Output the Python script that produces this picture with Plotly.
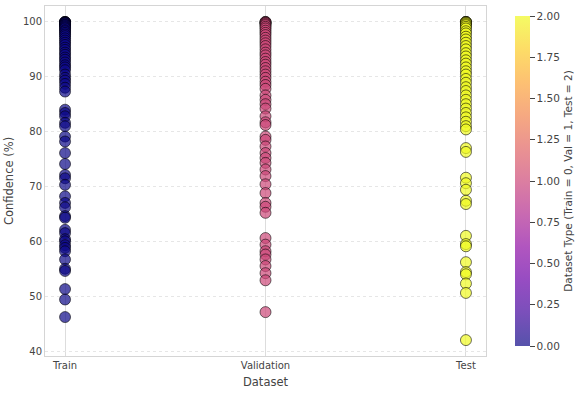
import plotly.graph_objects as go

categories = ["Train", "Validation", "Test"]
type_codes = [0, 1, 2]

train_conf = [100, 100, 100, 99.9, 99.8, 99.8, 99.7, 99.5, 99.4, 99.2, 99.0, 98.8, 98.5, 98.3, 98.0,
              97.7, 97.4, 97.0, 96.6, 96.2, 95.8, 95.3, 94.9, 94.4, 94.0, 93.5, 93.1, 92.6, 92.1,
              91.7, 91.2, 90.4, 89.8, 89.3, 88.7, 88.0, 87.3,
              84.0, 83.4, 82.8, 81.6, 81.0, 79.1, 78.2, 76.1, 74.1, 72.1, 71.5, 70.3, 68.2, 67.0,
              66.2, 64.6, 64.3, 62.1, 61.5, 60.4, 60.0, 59.3, 58.8, 58.2, 56.7, 55.0, 54.6, 51.3,
              49.4, 46.2]
val_conf = [100, 100, 99.9, 99.8, 99.6, 99.4, 99.1, 98.8, 98.4, 98.0, 97.6, 97.1, 96.6, 96.1, 95.6,
            95.0, 94.4, 93.9, 93.3, 92.7, 92.2, 91.6, 91.0, 90.4, 89.8, 89.1, 88.5, 87.8, 86.6,
            85.8, 85.0, 84.2, 82.8, 81.7, 81.2,
            79.1, 78.5, 77.3, 76.1, 75.2, 74.3, 73.1, 71.9, 70.4, 68.8, 67.0, 66.3, 65.2,
            60.6, 59.4, 58.2, 57.6, 56.7, 55.5, 54.2, 52.9, 47.1]
test_conf = [100, 100, 100, 99.9, 99.8, 99.6, 99.4, 99.1, 98.8, 98.3, 97.9, 97.3, 96.8, 96.2, 95.6,
             95.0, 94.3, 93.7, 93.0, 92.4, 91.7, 91.0, 90.4, 89.6, 88.9, 88.1, 87.4, 86.6, 85.8,
             85.0, 84.2, 83.4, 82.6, 81.8, 81.0, 80.4,
             77.0, 76.3, 71.6, 70.6, 69.4, 67.4, 66.8, 61.0, 59.5, 59.1, 56.2, 54.4, 54.0, 52.3,
             50.6, 42.0]

cbar_ticks = [0.0, 0.25, 0.5, 0.75, 1.0, 1.25, 1.5, 1.75, 2.0]

plasma_hex = ["#0d0887", "#41049d", "#6a00a8", "#8f0da4", "#b12a90", "#cc4778",
              "#e16462", "#f2844b", "#fca636", "#fcce25", "#f0f921"]


def rgba(h, a=0.7):
    h = h.lstrip("#")
    return f"rgba({int(h[0:2],16)},{int(h[2:4],16)},{int(h[4:6],16)},{a})"


colorscale = [[i / (len(plasma_hex) - 1), rgba(c)] for i, c in enumerate(plasma_hex)]

all_conf = [train_conf, val_conf, test_conf]
xs, ys, cs = [], [], []
for code, vals in zip(type_codes, all_conf):
    xs += [code] * len(vals)
    ys += vals
    cs += [code] * len(vals)

fig = go.Figure()
fig.add_trace(go.Scatter(
    x=xs, y=ys, mode="markers",
    marker=dict(
        size=11, color=cs, colorscale=colorscale, cmin=0, cmax=2,
        line=dict(color="rgba(0,0,0,0.7)", width=0.8),
        showscale=True,
        colorbar=dict(
            x=1.065, xanchor="left", xpad=0, y=0.5, yanchor="middle", len=1.0, lenmode="fraction",
            thickness=15, outlinewidth=0,
            tickvals=cbar_ticks, ticktext=[f"{t:.2f}" for t in cbar_ticks],
            ticks="outside", ticklen=5, tickcolor="#444", tickwidth=1,
            tickfont=dict(size=10.5, color="#444"),
            title=dict(text="Dataset Type (Train = 0, Val = 1, Test = 2)", side="right",
                       font=dict(size=10.5, color="#444")),
        ),
    ),
    showlegend=False, hoverinfo="skip",
))

fig.update_layout(
    width=580, height=393,
    margin=dict(l=45, r=91, t=6, b=37),
    paper_bgcolor="white", plot_bgcolor="white",
    font=dict(family="DejaVu Sans", color="#444"),
)
fig.update_xaxes(
    range=[-0.1, 2.1], tickvals=type_codes, ticktext=categories,
    showgrid=True, gridcolor="#dddddd", gridwidth=1,
    showline=True, linecolor="#d5d5d5", linewidth=1, mirror=True,
    zeroline=False, ticks="", tickfont=dict(size=10, color="#444"),
    title=dict(text="Dataset", font=dict(size=11.5, color="#444"), standoff=7),
)
fig.update_yaxes(
    range=[39.1, 102.9], tickvals=[40, 50, 60, 70, 80, 90, 100],
    showgrid=True, gridcolor="#e6e6e6", gridwidth=1, griddash="3px,3px",
    showline=True, linecolor="#d5d5d5", linewidth=1, mirror=True,
    zeroline=False, ticks="", tickfont=dict(size=10, color="#444"),
    title=dict(text="Confidence (%)", font=dict(size=11.5, color="#444"), standoff=6),
)

fig.write_html("out.html")
